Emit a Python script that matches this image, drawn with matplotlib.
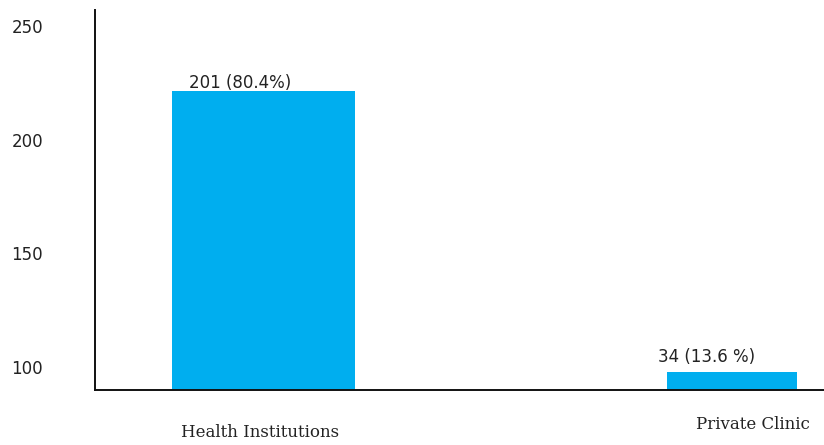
import matplotlib
matplotlib.use("Agg")
import matplotlib.pyplot as plt

# Data
categories = ["Health Institutions", "Private Clinic"]
counts = [201, 34]
percent_labels = ["201 (80.4%)", "34 (13.6 %)"]
ytick_values = [100, 150, 200, 250]
ytick_labels = ["100", "150", "200", "250"]

# Styling
bar_color = "#00AEEF"
bar_widths = [0.39, 0.278]
value_offsets = [(-23, 8), (-25, 15)]        # pixels from bar top-center
cat_offsets = [(-3, -43), (21, -35)]         # pixels from bar base-center

fig = plt.figure(figsize=(8.24, 4.45), dpi=100)
fig.patch.set_facecolor("white")
ax = fig.add_axes([0.1147, 0.1236, 0.8853, 0.8539])

# visible value scale
ax.set_ylim(89.9, 257.0)
ax.set_yticks(ytick_values)
ax.set_yticklabels(ytick_labels, fontsize=12, family="DejaVu Sans", color="#222222")
ax.tick_params(axis="y", length=0, pad=37)
ax.set_xlim(-0.3607, 1.1964)
ax.set_xticks([])
for side in ("top", "right"):
    ax.spines[side].set_visible(False)
ax.spines["left"].set_linewidth(1.4)
ax.spines["bottom"].set_linewidth(1.4)
ax.spines["left"].set_color("#111111")
ax.spines["bottom"].set_color("#111111")

# bars drawn on their own count scale
bx = ax.twinx()
bx.set_ylim(23.3, 249.1)
bx.set_xlim(ax.get_xlim())
bx.axis("off")
xs = list(range(len(categories)))
bars = bx.bar(xs, counts, width=bar_widths, color=bar_color, zorder=1)
ax.set_zorder(bx.get_zorder() + 1)
ax.patch.set_visible(False)

for x, c, lab, off in zip(xs, counts, percent_labels, value_offsets):
    bx.annotate(lab, (x, c), xytext=off, textcoords="offset pixels",
                ha="center", va="center", fontsize=12,
                family="DejaVu Sans", color="#222222")

for x, cat, off in zip(xs, categories, cat_offsets):
    bx.annotate(cat, (x, 23.3), xytext=off, textcoords="offset pixels",
                ha="center", va="center", fontsize=12,
                family="DejaVu Serif", color="#222222", annotation_clip=False)

fig.savefig("out.png", dpi=100, facecolor="white")
